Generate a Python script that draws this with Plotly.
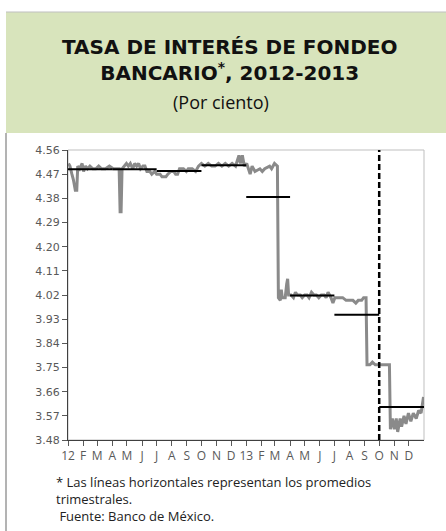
import plotly.graph_objects as go

# ---- data ----
dates = [
    "2012-01-02", "2012-01-05", "2012-01-09", "2012-01-12", "2012-01-16", "2012-01-19",
    "2012-01-21", "2012-01-25", "2012-01-30", "2012-02-02", "2012-02-06", "2012-02-10",
    "2012-02-15", "2012-02-21", "2012-02-27", "2012-03-04", "2012-03-10", "2012-03-18",
    "2012-03-26", "2012-04-03", "2012-04-10", "2012-04-15", "2012-04-17", "2012-04-19",
    "2012-04-21", "2012-04-26", "2012-04-30", "2012-05-04", "2012-05-08", "2012-05-13",
    "2012-05-17", "2012-05-21", "2012-05-25", "2012-05-29", "2012-06-03", "2012-06-07",
    "2012-06-11", "2012-06-17", "2012-06-21", "2012-06-27", "2012-07-01", "2012-07-08",
    "2012-07-12", "2012-07-20", "2012-07-24", "2012-07-30", "2012-08-05", "2012-08-09",
    "2012-08-13", "2012-08-17", "2012-08-25", "2012-08-31", "2012-09-04", "2012-09-12",
    "2012-09-19", "2012-09-25", "2012-10-01", "2012-10-08", "2012-10-15", "2012-10-22",
    "2012-10-29", "2012-11-05", "2012-11-12", "2012-11-19", "2012-11-26", "2012-12-03",
    "2012-12-10", "2012-12-17", "2012-12-20", "2012-12-24", "2012-12-28", "2013-01-02",
    "2013-01-09", "2013-01-13", "2013-01-19", "2013-01-29", "2013-02-03", "2013-02-08",
    "2013-02-18", "2013-02-22", "2013-02-28", "2013-03-06", "2013-03-08", "2013-03-12",
    "2013-03-14", "2013-03-16", "2013-03-22", "2013-03-25", "2013-03-27", "2013-03-29",
    "2013-04-03", "2013-04-08", "2013-04-12", "2013-04-16", "2013-04-22", "2013-04-26",
    "2013-05-01", "2013-05-06", "2013-05-10", "2013-05-15", "2013-05-20", "2013-05-25",
    "2013-05-30", "2013-06-04", "2013-06-10", "2013-06-14", "2013-06-18", "2013-06-24",
    "2013-06-28", "2013-07-02", "2013-07-10", "2013-07-18", "2013-07-25", "2013-08-01",
    "2013-08-08", "2013-08-14", "2013-08-19", "2013-08-26", "2013-08-30", "2013-09-04",
    "2013-09-06", "2013-09-12", "2013-09-17", "2013-09-23", "2013-10-01", "2013-10-10",
    "2013-10-18", "2013-10-22", "2013-10-24", "2013-10-28", "2013-11-01", "2013-11-05",
    "2013-11-08", "2013-11-13", "2013-11-16", "2013-11-21", "2013-11-25", "2013-11-30",
    "2013-12-05", "2013-12-10", "2013-12-16", "2013-12-21", "2013-12-26", "2013-12-31",
]
rate = [
    4.51, 4.50, 4.47, 4.45, 4.41, 4.41,
    4.50, 4.49, 4.51, 4.48, 4.50, 4.49,
    4.50, 4.49, 4.49, 4.50, 4.49, 4.49,
    4.50, 4.49, 4.49, 4.49, 4.33, 4.33,
    4.49, 4.50, 4.51, 4.50, 4.51, 4.49,
    4.51, 4.50, 4.51, 4.49, 4.50, 4.50,
    4.48, 4.48, 4.47, 4.48, 4.47, 4.47,
    4.46, 4.46, 4.47, 4.48, 4.48, 4.47,
    4.47, 4.49, 4.49, 4.48, 4.49, 4.49,
    4.48, 4.50, 4.51, 4.50, 4.51, 4.50,
    4.50, 4.51, 4.50, 4.51, 4.50, 4.51,
    4.50, 4.54, 4.51, 4.54, 4.50, 4.51,
    4.47, 4.50, 4.48, 4.49, 4.48, 4.49,
    4.50, 4.49, 4.51, 4.50, 4.01, 4.00,
    4.04, 4.01, 4.01, 4.06, 4.08, 4.02,
    4.02, 4.01, 4.03, 4.02, 4.02, 4.01,
    4.02, 4.02, 4.01, 4.03, 4.02, 4.02,
    4.01, 4.02, 4.02, 4.01, 4.03, 4.01,
    3.99, 4.01, 4.01, 4.01, 4.00, 4.00,
    4.00, 3.99, 4.00, 4.00, 4.01, 4.01,
    3.76, 3.76, 3.77, 3.76, 3.76, 3.76,
    3.76, 3.76, 3.52, 3.56, 3.52, 3.56,
    3.51, 3.56, 3.53, 3.57, 3.54, 3.58,
    3.55, 3.58, 3.56, 3.59, 3.58, 3.64,
]

q_start = ["2012-01-01", "2012-04-01", "2012-07-01", "2012-10-01",
           "2013-01-01", "2013-04-01", "2013-07-01", "2013-10-01"]
q_end = ["2012-04-01", "2012-07-01", "2012-10-01", "2013-01-01",
         "2013-04-01", "2013-07-01", "2013-10-01", "2014-01-01"]
q_avg = [4.488, 4.488, 4.482, 4.503, 4.385, 4.018, 3.946, 3.603]

cut_date = "2013-10-01"

month_ticks = ["2012-%02d-01" % m for m in range(1, 13)] + ["2013-%02d-01" % m for m in range(1, 13)]
month_labels = ["12", "F", "M", "A", "M", "J", "J", "A", "S", "O", "N", "D",
                "13", "F", "M", "A", "M", "J", "J", "A", "S", "O", "N", "D"]

y_min, y_max, y_step = 3.48, 4.56, 0.09

# ---- figure ----
fig = go.Figure()

fig.add_trace(go.Scatter(x=dates, y=rate, mode="lines",
                         line=dict(color="#8a8a8a", width=3), hoverinfo="skip"))

qx, qy = [], []
for s, e, v in zip(q_start, q_end, q_avg):
    qx += [s, e, None]
    qy += [v, v, None]
fig.add_trace(go.Scatter(x=qx, y=qy, mode="lines",
                         line=dict(color="#000000", width=2), hoverinfo="skip"))

fig.add_trace(go.Scatter(x=[cut_date, cut_date], y=[y_min, y_max], mode="lines",
                         line=dict(color="#000000", width=2.5, dash="6px,3px"),
                         hoverinfo="skip", cliponaxis=False))

L, R, T, B = 68, 22, 150, 91
W, H = 446, 531
pw, ph = W - L - R, H - T - B


def px(xp):
    return (xp - L) / pw


def py(yp):
    return (H - B - yp) / ph


shapes = [
    # header box
    dict(type="rect", xref="paper", yref="paper", x0=px(6), x1=px(447), y0=py(133), y1=py(12),
         fillcolor="#d8e4bc", line=dict(width=0), layer="below"),
    dict(type="line", xref="paper", yref="paper", x0=px(6), x1=px(447), y0=py(12), y1=py(12),
         line=dict(color="#bfbfbf", width=1)),
    # left frame line
    dict(type="line", xref="paper", yref="paper", x0=px(6), x1=px(6), y0=py(133), y1=py(532),
         line=dict(color="#9a9a9a", width=1.5)),
    # plot area border
    dict(type="rect", xref="paper", yref="paper", x0=0, x1=1, y0=0, y1=1,
         line=dict(color="#bfbfbf", width=1), layer="below"),
]

annotations = [
    dict(text="<b>TASA DE INTERÉS DE FONDEO<br>BANCARIO<sup>*</sup>, 2012-2013</b>",
         x=px(229), y=py(60), xref="paper", yref="paper",
         showarrow=False, xanchor="center", yanchor="middle", align="center",
         font=dict(family="DejaVu Sans", size=20, color="#111111")),
    dict(text="(Por ciento)", x=px(221), y=py(102), xref="paper", yref="paper",
         showarrow=False, xanchor="center", yanchor="middle",
         font=dict(family="Open Sans", size=18, color="#111111")),
    dict(text="* Las líneas horizontales representan los promedios<br>trimestrales.<br>"
              "\u00a0Fuente: Banco de México.",
         x=px(54), y=py(499), xref="paper", yref="paper", showarrow=False,
         xanchor="left", yanchor="middle", align="left",
         font=dict(family="Open Sans", size=13, color="#222222")),
]

fig.update_layout(
    width=W, height=H,
    margin=dict(l=L, r=R, t=T, b=B, pad=0),
    paper_bgcolor="#ffffff", plot_bgcolor="#ffffff",
    showlegend=False,
    shapes=shapes,
    annotations=annotations,
    xaxis=dict(type="date", range=["2012-01-01", "2014-01-01"],
               tickmode="array", tickvals=month_ticks, ticktext=month_labels,
               ticks="outside", ticklen=5, tickcolor="#595959", tickwidth=1,
               showline=True, linecolor="#404040", linewidth=1,
               showgrid=False, zeroline=False,
               tickfont=dict(family="Open Sans", size=12, color="#595959")),
    yaxis=dict(range=[y_min, y_max], tick0=y_min, dtick=y_step, tickformat=".2f",
               ticks="outside", ticklen=5, tickcolor="#595959", tickwidth=1,
               showline=True, linecolor="#404040", linewidth=1,
               showgrid=False, zeroline=False,
               tickfont=dict(family="DejaVu Sans", size=11, color="#595959")),
)

fig.write_html("out.html", config={"displayModeBar": False},
               post_script="document.body.style.margin='0';document.body.style.overflow='hidden';")
